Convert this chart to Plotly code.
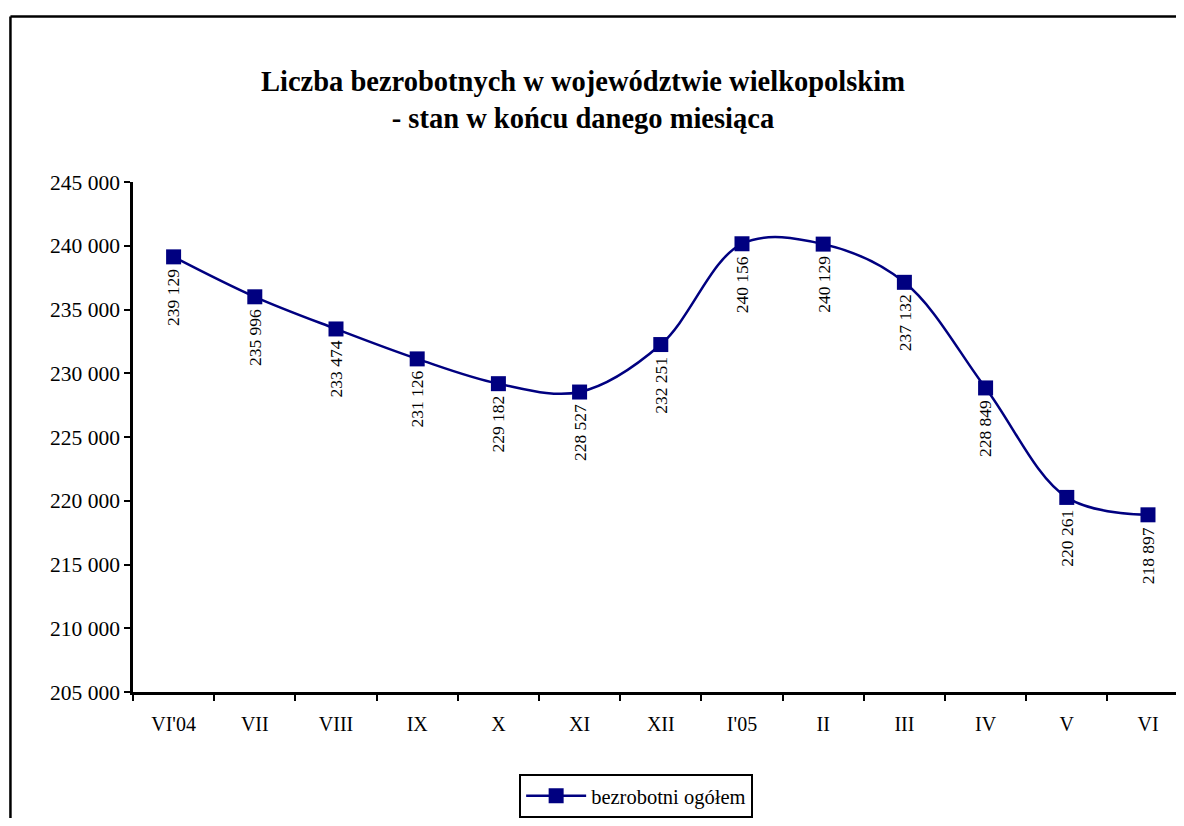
import plotly.graph_objects as go

months = ["VI'04", "VII", "VIII", "IX", "X", "XI", "XII", "I'05", "II", "III", "IV", "V", "VI"]
unemployed = [239129, 235996, 233474, 231126, 229182, 228527, 232251, 240156, 240129, 237132, 228849, 220261, 218897]
y_ticks = [205000, 210000, 215000, 220000, 225000, 230000, 235000, 240000, 245000]

def fmt(v):
    return f"{v:,}".replace(",", " ")

FONT = "Liberation Serif, Times New Roman, serif"
NAVY = "#000080"

fig = go.Figure()
fig.add_trace(go.Scatter(
    x=months, y=unemployed, mode="lines+markers",
    name="bezrobotni ogółem",
    line=dict(color=NAVY, width=2.5, shape="spline", smoothing=1),
    marker=dict(symbol="square", size=15, color=NAVY),
    cliponaxis=False,
))

annotations = []
for m, v in zip(months, unemployed):
    annotations.append(dict(
        x=m, y=v, xref="x", yref="y", text=fmt(v), textangle=-90,
        showarrow=False, yanchor="top", xanchor="center", yshift=-10,
        font=dict(family=FONT, size=17.5, color="black"),
    ))
annotations.append(dict(
    x=0.431, y=1.161, xref="paper", yref="paper",
    text="<b>Liczba bezrobotnych w województwie wielkopolskim<br>- stan w końcu danego miesiąca</b>",
    showarrow=False, xanchor="center", yanchor="middle",
    font=dict(family=FONT, size=28.5, color="black"),
))

border = dict(color="black", width=2.5)
fig.update_layout(
    width=1168, height=810,
    margin=dict(l=125, r=0, t=174, b=123),
    paper_bgcolor="white", plot_bgcolor="white",
    font=dict(family=FONT, size=20, color="black"),
    showlegend=True,
    legend=dict(
        x=0.4824, y=-0.2047, xanchor="center", yanchor="middle",
        orientation="h", bordercolor="black", borderwidth=2,
        bgcolor="white", itemwidth=60,
        font=dict(family=FONT, size=20.5, color="black"),
    ),
    annotations=annotations,
    shapes=[
        dict(type="line", xref="paper", yref="paper",
             x0=-0.1175, x1=-0.1175, y0=-0.6, y1=1.3246, line=border, layer="above"),
        dict(type="line", xref="paper", yref="paper",
             x0=-0.1175, x1=1.2, y0=1.3246, y1=1.3246, line=border, layer="above"),
    ],
)
fig.update_xaxes(
    type="category", range=[-0.5, 12.345],
    showline=True, linecolor="black", linewidth=2.5,
    ticks="outside", tickson="boundaries", ticklen=6, tickwidth=2, tickcolor="black",
    ticklabelstandoff=12,
    showgrid=False, zeroline=False,
    tickfont=dict(family=FONT, size=20),
)
fig.update_yaxes(
    range=[205000, 245000],
    tickvals=y_ticks, ticktext=[fmt(t) for t in y_ticks],
    showline=True, linecolor="black", linewidth=2.5,
    ticks="outside", ticklen=6, tickwidth=2, tickcolor="black",
    showgrid=False, zeroline=False,
    tickfont=dict(family=FONT, size=21.5),
)

fig.write_html("out.html")
